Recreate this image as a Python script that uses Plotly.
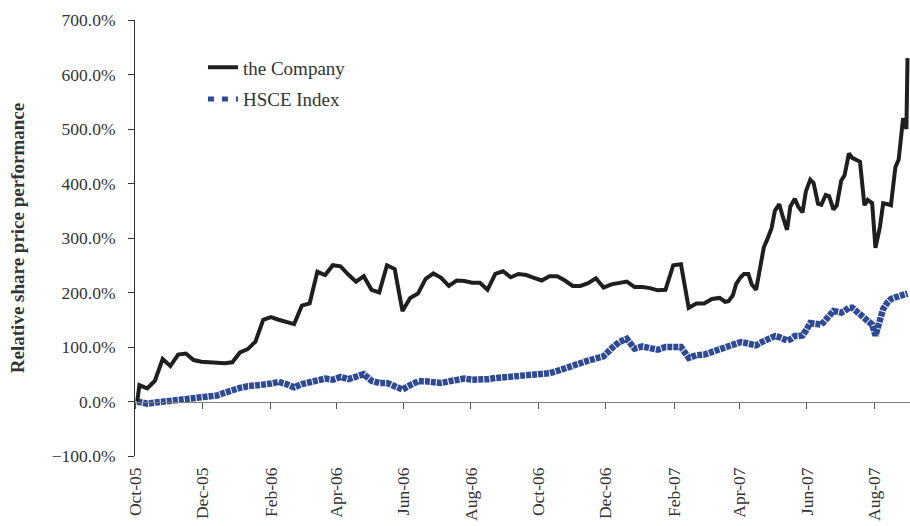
import plotly.graph_objects as go
import pandas as pd

# observation dates: base date, weekly (Wednesdays) to mid-March 2007,
# then twice weekly (Mon/Thu) for the more volatile last months, then final day
start_date = ["2005-10-03"]
weekly_dates = [d.strftime("%Y-%m-%d") for d in pd.date_range("2005-10-05", periods=76, freq="7D")]
semiweekly_dates = [
    "2007-03-19", "2007-03-22", "2007-03-26", "2007-03-29", "2007-04-02", "2007-04-05",
    "2007-04-09", "2007-04-12", "2007-04-16", "2007-04-19", "2007-04-23", "2007-04-26",
    "2007-04-30", "2007-05-03", "2007-05-07", "2007-05-10", "2007-05-14", "2007-05-17",
    "2007-05-21", "2007-05-24", "2007-05-28", "2007-05-31", "2007-06-04", "2007-06-07",
    "2007-06-11", "2007-06-14", "2007-06-18", "2007-06-21", "2007-06-25", "2007-06-28",
    "2007-07-02", "2007-07-05", "2007-07-09", "2007-07-12", "2007-07-16", "2007-07-19",
    "2007-07-23", "2007-07-26", "2007-07-30", "2007-08-02", "2007-08-06", "2007-08-09",
    "2007-08-13", "2007-08-16", "2007-08-20", "2007-08-23", "2007-08-27", "2007-08-30",
]
end_date = ["2007-08-31"]
dates = start_date + weekly_dates + semiweekly_dates + end_date

company_weekly = [
    30, 24, 38, 78, 65, 86, 88, 76, 73, 72,
    71, 70, 72, 90, 96, 110, 150, 155, 150, 146,
    142, 176, 180, 238, 232, 250, 248, 233, 220, 230,
    205, 200, 250, 243, 166, 190, 198, 225, 235, 227,
    212, 222, 221, 218, 218, 205, 234, 239, 228, 234,
    232, 227, 222, 230, 230, 222, 212, 212, 217, 226,
    209, 215, 218, 220, 210, 210, 208, 204, 205, 250,
    252, 172, 180, 180, 188, 190]
company_semiweekly = [
    183, 184, 195, 216, 228, 234, 234, 215, 205, 240,
    283, 297, 318, 350, 362, 340, 315, 358, 372, 358,
    347, 385, 407, 401, 363, 361, 379, 377, 352, 360,
    405, 415, 455, 447, 444, 440, 360, 370, 364, 282,
    320, 364, 362, 360, 430, 444, 520, 500]
company = [0] + company_weekly + company_semiweekly + [630]

hsce_weekly = [
    -1, -4, -2, 0, 1, 3, 4, 5, 7, 9,
    11, 16, 22, 25, 28, 31, 31, 33, 36, 32,
    26, 32, 35, 38, 42, 40, 45, 41, 46, 50,
    38, 34, 34, 29, 22, 30, 37, 37, 34, 34,
    37, 40, 42, 40, 40, 41, 43, 44, 44, 45,
    46, 49, 51, 52, 56, 61, 68, 72, 75, 79,
    83, 97, 109, 115, 97, 101, 98, 95, 100, 101,
    100, 80, 85, 86, 91, 95]
hsce_semiweekly = [
    98, 100, 104, 106, 109, 108, 106, 105, 103, 107,
    111, 116, 120, 120, 118, 115, 112, 114, 120, 120,
    121, 130, 144, 143, 141, 141, 150, 157, 166, 165,
    163, 166, 172, 172, 165, 157, 152, 148, 141, 121,
    152, 170, 182, 188, 191, 193, 195, 197]
hsce = [0] + hsce_weekly + hsce_semiweekly + [198]

series_names = ["the Company", "HSCE Index"]
y_title = "Relative share price performance"

FONT = "Liberation Serif, Times New Roman, serif"
TXT = "#333333"
BLUE = "#2F4A95"

fig = go.Figure()
fig.add_trace(go.Scatter(
    x=dates, y=hsce, mode="lines", name=series_names[1], showlegend=False,
    line=dict(color=BLUE, width=6.5, dash="5px,1px"),
))
fig.add_trace(go.Scatter(
    x=dates, y=company, mode="lines", name=series_names[0], legendgroup="a",
    line=dict(color="#1F1F1F", width=4),
))
# legend-only entry for the index (Excel style legend dash)
fig.add_trace(go.Scatter(
    x=[None], y=[None], mode="lines", name=series_names[1], legendgroup="b",
    line=dict(color=BLUE, width=5, dash="6px,8px"),
))

fig.update_layout(
    width=910, height=526,
    margin=dict(l=135, r=0, t=20, b=70),
    paper_bgcolor="white", plot_bgcolor="white",
    font=dict(family=FONT, size=17, color=TXT),
    showlegend=True,
    legend=dict(x=0.0877, y=0.935, xanchor="left", yanchor="top",
                font=dict(size=19, color=TXT), bgcolor="rgba(0,0,0,0)",
                traceorder="grouped", itemwidth=30, tracegroupgap=4),
    xaxis=dict(
        type="date",
        range=["2005-10-01", "2007-09-02 06:00"],
        tick0="2005-10-01", dtick="M2", tickformat="%b-%y",
        tickangle=-90,
        anchor="free", position=0.125,
        showline=True, linecolor="#7f7f7f", linewidth=1,
        ticks="outside", ticklen=6, tickcolor="#555555",
        showgrid=False, zeroline=False,
        ticklabelstandoff=52,
        tickfont=dict(size=17.5, color=TXT),
        automargin=False,
    ),
    yaxis=dict(
        range=[-100, 700], dtick=100, tickformat=".1f", ticksuffix="%",
        showline=True, linecolor="#333333", linewidth=1,
        ticks="outside", ticklen=6, tickcolor="#333333",
        showgrid=False, zeroline=False,
        ticklabelstandoff=9,
        tickfont=dict(size=17.5, color=TXT),
        title=dict(text="<b>" + y_title + "</b>", font=dict(size=19, color=TXT), standoff=22),
        automargin=False,
    ),
)

# remove the default page margin so the figure sits at the window origin
fig.write_html(
    "out.html",
    config={"displayModeBar": False},
    post_script="document.body.style.margin='0px';document.documentElement.style.overflow='hidden';",
)
